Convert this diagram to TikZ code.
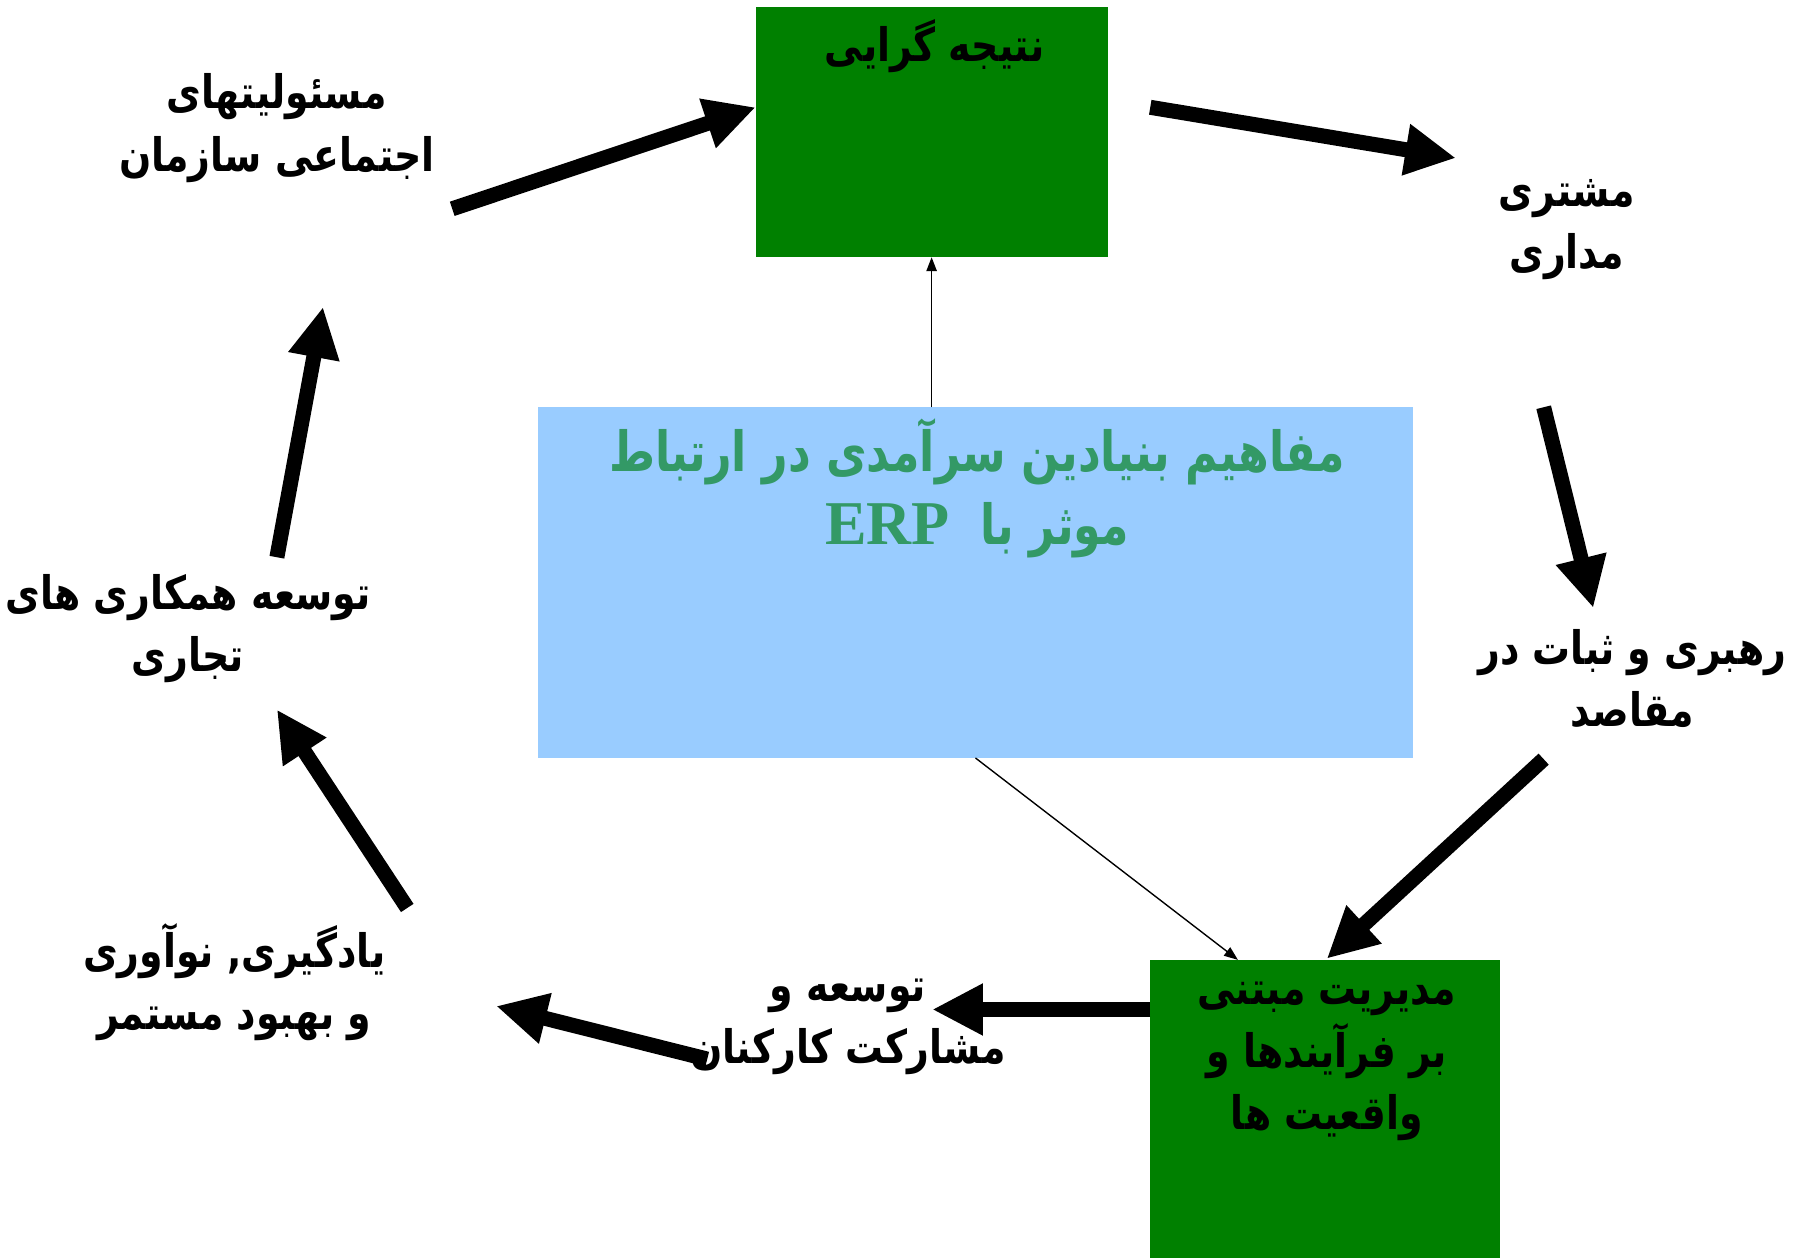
\documentclass[tikz,border=0pt]{standalone}
\usepackage{fontspec}
\usetikzlibrary{arrows.meta}
\TeXXeTstate=1
\newfontfamily\fa[Script=Arabic,FakeStretch=0.82]{DejaVu Sans}
\newfontfamily\fat[Script=Arabic,FakeStretch=0.8]{DejaVu Sans}
\newfontfamily\erpfont{Liberation Serif}
\definecolor{boxgreen}{RGB}{0,128,0}
\definecolor{boxblue}{RGB}{153,204,255}
\definecolor{titlegreen}{RGB}{51,153,102}
\newcommand\rl[1]{\beginR #1\endR}
\begin{document}
\begin{tikzpicture}[x=0.5pt,y=-0.5pt,
  bigarrow/.style={line width=6.5pt, -{Triangle[length=22pt,width=21pt]}},
  thinarrow/.style={line width=0.6pt, -{Triangle[length=6pt,width=4.5pt]}},
  lbl/.style={font=\fa\bfseries\fontsize{20}{27}\selectfont, align=center, inner sep=0pt, text=black},
  titlelbl/.style={font=\fat\bfseries\fontsize{24}{31.5}\selectfont, align=center, inner sep=0pt, text=titlegreen},
  gbox/.style={fill=boxgreen, draw=none, inner sep=0pt, outer sep=0pt, anchor=north west},
  bbox/.style={fill=boxblue, draw=none, inner sep=0pt, outer sep=0pt, anchor=north west}]
\useasboundingbox (0,0) rectangle (1568,1090);
\fill[white] (0,0) rectangle (1568,1090);

% boxes
\node[gbox, minimum width=152.5pt, minimum height=108.5pt] (g1) at (655,6) {};
\node[bbox, minimum width=379.5pt, minimum height=152pt] (blue) at (466,353) {};
\node[gbox, minimum width=151.5pt, minimum height=129pt] (g2) at (997,832) {};

% arrow end points
\coordinate (a1s) at (392,181); \coordinate (a1e) at (655,93);
\coordinate (a2s) at (997,93);  \coordinate (a2e) at (1262,137);
\coordinate (a3s) at (1338,353); \coordinate (a3e) at (1381,527);
\coordinate (a4s) at (1338,658); \coordinate (a4e) at (1150,831);
\coordinate (a5s) at (997,875); \coordinate (a5e) at (808,875);
\coordinate (a6s) at (613,918); \coordinate (a6e) at (430,872);
\coordinate (a7s) at (353,787); \coordinate (a7e) at (240,615);
\coordinate (a8s) at (240,483); \coordinate (a8e) at (280,266);
\coordinate (t2e) at (1073,832);

\draw[bigarrow] (a1s) -- (a1e);
\draw[bigarrow] (a2s) -- (a2e);
\draw[bigarrow] (a3s) -- (a3e);
\draw[bigarrow] (a4s) -- (a4e);
\draw[bigarrow] (a5s) -- (a5e);
\draw[bigarrow] (a6s) -- (a6e);
\draw[bigarrow] (a7s) -- (a7e);
\draw[bigarrow] (a8s) -- (a8e);

\draw[thinarrow] (g1.south |- blue.north) -- (g1.south);
\draw[thinarrow] (blue.south) -- (t2e);

% texts
\node[lbl] (n1) at (240,111) {\rl{مسئولیتهای}\\\rl{اجتماعی سازمان}};
\node[lbl] (n2) at (810,40) {\rl{نتیجه گرایی}};
\node[lbl] (n3) at (1358,199) {\rl{مشتری}\\\rl{مداری}};
\node[titlelbl] (title) at (847,423) {\rl{مفاهیم بنیادین سرآمدی در ارتباط}\\\rl{موثر با\ \ \beginL{\erpfont\bfseries\fontsize{27}{31}\selectfont ERP}\endL}};
\node[lbl] (n5) at (1415,588) {\rl{رهبری و ثبات در}\\\rl{مقاصد}};
\node[lbl] (n6) at (1150,920) {\rl{مدیریت مبتنی}\\\rl{بر فرآیندها و}\\\rl{واقعیت ها}};
\node[lbl] (n7) at (735,890) {\rl{توسعه و}\\\rl{مشارکت کارکنان}};
\node[lbl] (n8) at (203,851) {\rl{یادگیری, نوآوری}\\\rl{و بهبود مستمر}};
\node[lbl] (n9) at (163,545) {\rl{توسعه همکاری های}\\\rl{تجاری}};
\end{tikzpicture}
\end{document}
